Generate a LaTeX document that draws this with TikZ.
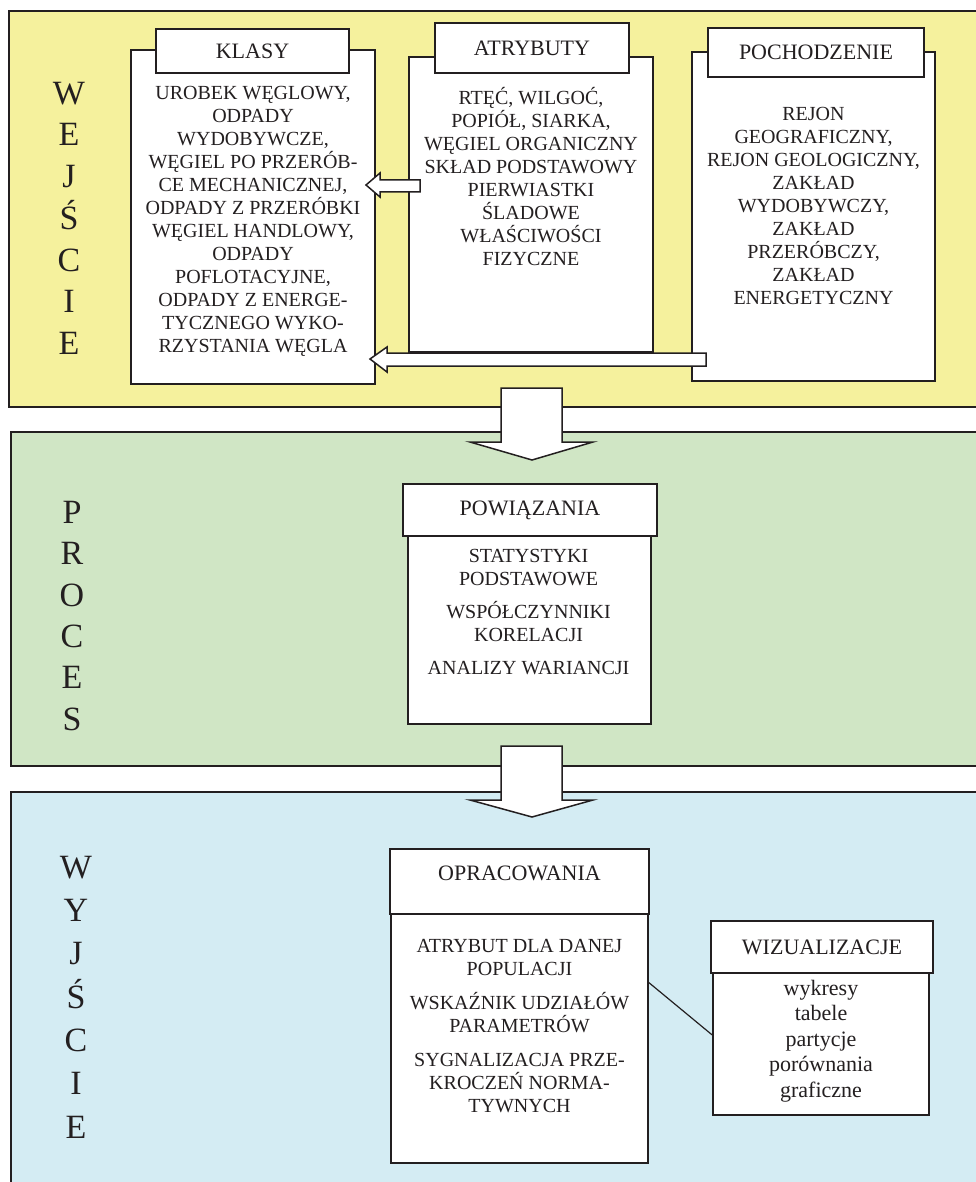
\documentclass[tikz,border=0pt]{standalone}
\usepackage{fontspec}
\setmainfont{Liberation Serif}
\usetikzlibrary{calc}
\definecolor{ink}{RGB}{35,31,32}
\definecolor{wejscie}{RGB}{245,241,157}
\definecolor{proces}{RGB}{208,230,197}
\definecolor{wyjscie}{RGB}{212,236,243}
\begin{document}
\begin{tikzpicture}[x=1pt,y=-1pt,
 panel/.style={draw=ink,line width=1.5pt},
 bodybox/.style={draw=ink,fill=white,line width=1.5pt,inner sep=0pt},
 titlebox/.style={draw=ink,fill=white,line width=1.5pt,inner sep=0pt,text=ink,font=\fontsize{22}{26}\selectfont},
 bodytext/.style={align=center,anchor=north,inner sep=0pt,text=ink,font=\fontsize{20}{23}\selectfont},
 sideletter/.style={anchor=base,inner sep=0pt,text=ink,font=\fontsize{34}{40}\selectfont},
 blockarrow/.style={draw=ink,fill=white,line width=1.5pt}]
\useasboundingbox (0,0) rectangle (976,1182);
% three bands
\draw[panel,fill=wejscie] (9,11) rectangle (990,407);
\draw[panel,fill=proces] (11,432) rectangle (990,766);
\draw[panel,fill=wyjscie] (11,792) rectangle (990,1200);
% vertical words
\foreach \ch [count=\i from 0] in {W,E,J,Ś,C,I,E}
 \node[sideletter] (wej\i) at (69,104.3+41.7*\i) {\ch};
\foreach \ch [count=\i from 0] in {P,R,O,C,E,S}
 \node[sideletter] (pro\i) at (72,523.3+41.4*\i) {\ch};
\foreach \ch [count=\i from 0] in {W,Y,J,Ś,C,I,E}
 \node[sideletter] (wyj\i) at (76,878.3+43.3*\i) {\ch};
% big arrows between bands
\draw[blockarrow] (532,460) -- ++(-62,-18) -- ++(31,0) -- ++(0,-54) -- ++(61,0) -- ++(0,54) -- ++(31,0) -- cycle;
\draw[blockarrow] (532,817) -- ++(-62,-17) -- ++(31,0) -- ++(0,-54) -- ++(61,0) -- ++(0,54) -- ++(31,0) -- cycle;
% WEJSCIE
\node[bodybox,minimum width=244pt,minimum height=334pt] (klasybody) at (253,217) {};
\node[titlebox,minimum width=193pt,minimum height=44pt] (klasytitle) at (252.5,51) {KLASY};
\node[bodytext] (klasytext) at (253,86.4) {UROBEK WĘGLOWY,\\ODPADY\\WYDOBYWCZE,\\WĘGIEL PO PRZERÓB-\\CE MECHANICZNEJ,\\ODPADY Z PRZERÓBKI\\WĘGIEL HANDLOWY,\\ODPADY\\POFLOTACYJNE,\\ODPADY Z ENERGE-\\TYCZNEGO WYKO-\\RZYSTANIA WĘGLA};
\node[bodybox,minimum width=244pt,minimum height=295pt] (atrybody) at (531,204.5) {};
\node[titlebox,minimum width=194pt,minimum height=50pt] (atrytitle) at (532,48) {ATRYBUTY};
\node[bodytext] (atrytext) at (531,87) {RTĘĆ, WILGOĆ,\\POPIÓŁ, SIARKA,\\WĘGIEL ORGANICZNY\\SKŁAD PODSTAWOWY\\PIERWIASTKI\\ŚLADOWE\\WŁAŚCIWOŚCI\\FIZYCZNE};
\node[bodybox,minimum width=243pt,minimum height=329pt] (pochbody) at (813.5,216.5) {};
\node[titlebox,minimum width=216pt,minimum height=49pt] (pochtitle) at (816,52.5) {POCHODZENIE};
\node[bodytext] (pochtext) at (813.5,107.4) {REJON\\GEOGRAFICZNY,\\REJON GEOLOGICZNY,\\ZAKŁAD\\WYDOBYWCZY,\\ZAKŁAD\\PRZERÓBCZY,\\ZAKŁAD\\ENERGETYCZNY};
\draw[blockarrow] (366,185) -- ++(14,-12) -- ++(0,7) -- ++(40,0) -- ++(0,12) -- ++(-40,0) -- ++(0,5) -- cycle;
\draw[blockarrow] (370,359) -- ++(17,-12) -- ++(0,6) -- ++(319,0) -- ++(0,13) -- ++(-319,0) -- ++(0,6) -- cycle;
% PROCES
\node[bodybox,minimum width=243pt,minimum height=188pt] (powbody) at (529.5,630) {};
\node[titlebox,minimum width=254pt,minimum height=52pt] (powtitle) at (530,510) {POWIĄZANIA};
\node[bodytext] (powtext) at (528.5,549.4) {STATYSTYKI\\PODSTAWOWE\\[10pt]WSPÓŁCZYNNIKI\\KORELACJI\\[10pt]ANALIZY WARIANCJI};
% WYJSCIE
\node[bodybox,minimum width=257pt,minimum height=249pt] (oprbody) at (519.5,1038.5) {};
\node[titlebox,minimum width=259pt,minimum height=65pt,text depth=17pt] (oprtitle) at (519.5,881.5) {OPRACOWANIA};
\node[bodytext] (oprtext) at (519.5,939.4) {ATRYBUT DLA DANEJ\\POPULACJI\\[11pt]WSKAŹNIK UDZIAŁÓW\\PARAMETRÓW\\[11pt]SYGNALIZACJA PRZE-\\KROCZEŃ NORMA-\\TYWNYCH};
\node[bodybox,minimum width=216pt,minimum height=142pt] (wizbody) at (821,1044) {};
\node[titlebox,minimum width=222pt,minimum height=52pt] (wiztitle) at (822,947) {WIZUALIZACJE};
\node[bodytext,font=\fontsize{22}{25.5}\selectfont] (wiztext) at (821,980) {wykresy\\tabele\\partycje\\porównania\\graficzne};
\draw[ink,line width=1.2pt] ([yshift=56pt]oprbody.east) -- ([yshift=9pt]wizbody.west);
\end{tikzpicture}
\end{document}
